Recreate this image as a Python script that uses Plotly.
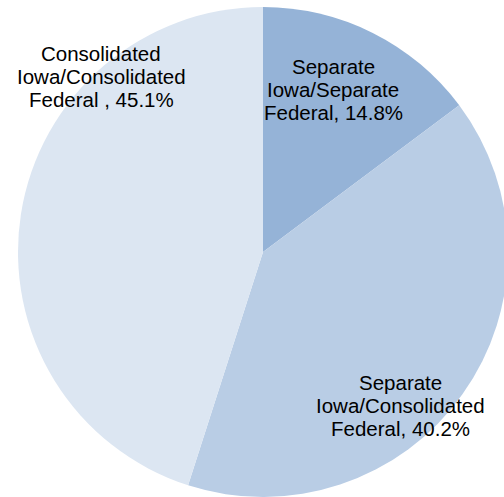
import plotly.graph_objects as go

# Share of returns by filing combination
categories = [
    "Separate Iowa/Separate Federal",
    "Separate Iowa/Consolidated Federal",
    "Consolidated Iowa/Consolidated Federal",
]
shares = [14.8, 40.2, 45.1]
slice_colors = ["#95B3D7", "#B9CDE5", "#DCE6F2"]

# Label lines for each slice (last line carries the value)
label_lines = [
    ["Separate", "Iowa/Separate", "Federal, {v}%"],
    ["Separate", "Iowa/Consolidated", "Federal, {v}%"],
    ["Consolidated", "Iowa/Consolidated", "Federal , {v}%"],
]

W, H = 512, 497
# pixel centre of each label block and baseline of its first line
label_centers = [(333, 74), (400, 390), (101, 61)]
LINE_GAP = 22.8
FONT_SIZE = 20.5

fig = go.Figure(
    go.Pie(
        labels=categories,
        values=shares,
        sort=False,
        direction="clockwise",
        rotation=0,
        marker=dict(colors=slice_colors, line=dict(width=0)),
        textinfo="none",
        hoverinfo="label+percent",
        showlegend=False,
        domain=dict(x=[18 / W, 508 / W], y=[0, 490 / H]),
    )
)

for lines, value, (cx, by) in zip(label_lines, shares, label_centers):
    for i, line in enumerate(lines):
        baseline = by + i * LINE_GAP
        fig.add_annotation(
            text=line.format(v=value),
            x=cx / W,
            y=1 - (baseline - 0.36 * FONT_SIZE) / H,
            xref="paper",
            yref="paper",
            xanchor="center",
            yanchor="middle",
            showarrow=False,
            font=dict(family="Liberation Sans, Arial, sans-serif", size=FONT_SIZE, color="#000000"),
        )

fig.update_layout(
    width=W,
    height=H,
    margin=dict(l=0, r=0, t=0, b=0),
    paper_bgcolor="white",
    plot_bgcolor="white",
)

fig.write_html(
    "out.html",
    post_script=(
        "document.body.style.margin='0';"
        "document.body.style.overflow='hidden';"
        "document.documentElement.style.overflow='hidden';"
    ),
)
